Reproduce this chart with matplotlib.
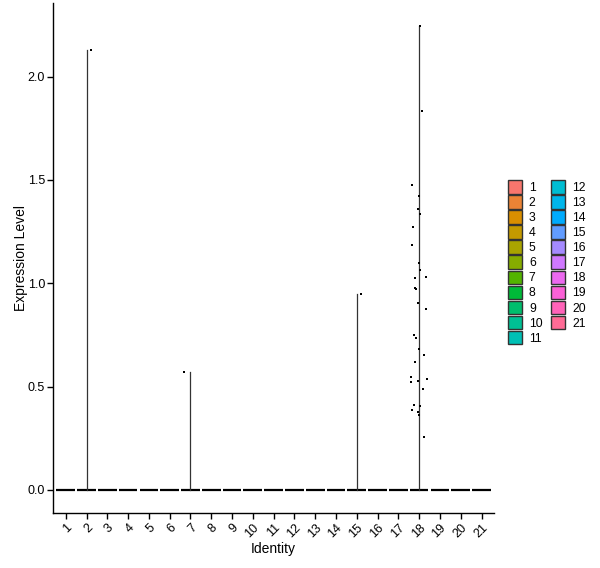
import numpy as np
from matplotlib import pyplot as plt
from matplotlib.patches import Patch

# кластеры (Identity)
clusters = [str(i) for i in range(1, 22)]

# ненулевые значения экспрессии: кластер -> значения и смещения джиттера
c2_values = [2.131]
c2_jitter = [0.21]

c7_values = [0.572]
c7_jitter = [-0.32]

c15_values = [0.948]
c15_jitter = [0.19]

c18_values = [2.247, 1.835, 1.477, 1.424, 1.361, 1.334, 1.274, 1.187,
              1.100, 1.063, 1.032, 1.027, 0.979, 0.974, 0.906, 0.877,
              0.749, 0.734, 0.684, 0.655, 0.618, 0.545, 0.539, 0.526,
              0.521, 0.490, 0.413, 0.408, 0.389, 0.379, 0.364, 0.258]
c18_jitter = [0.03, 0.125, -0.356, 0.0, -0.07, 0.04, -0.31, -0.356,
              0.0, 0.04, 0.317, -0.21, -0.21, -0.16, -0.07, 0.317,
              -0.26, -0.16, 0.0, 0.22, -0.21, -0.40, 0.365, -0.07,
              -0.40, 0.17, -0.26, 0.03, -0.356, -0.07, -0.02, 0.22]

nonzero = {
    2: (c2_values, c2_jitter),
    7: (c7_values, c7_jitter),
    15: (c15_values, c15_jitter),
    18: (c18_values, c18_jitter),
}


def hue_pal(n, c=100, l=65):
    """ палитра ggplot: hcl -> sRGB """
    hues = np.linspace(15, 375, n + 1)[:-1]
    xn, yn, zn = 95.047, 100.0, 108.883
    un = 4 * xn / (xn + 15 * yn + 3 * zn)
    vn = 9 * yn / (xn + 15 * yn + 3 * zn)
    m = np.array([[3.240479, -1.537150, -0.498535],
                  [-0.969256, 1.875992, 0.041556],
                  [0.055648, -0.204043, 1.057311]])
    colors = []
    for h in hues:
        u = c * np.cos(np.radians(h))
        v = c * np.sin(np.radians(h))
        y = yn * ((l + 16) / 116) ** 3
        up = u / (13 * l) + un
        vp = v / (13 * l) + vn
        x = 9 * y * up / (4 * vp)
        z = -x / 3 - 5 * y + 3 * y / vp
        rgb = m @ (np.array([x, y, z]) / 100)
        rgb = np.where(rgb > 0.0031308, 1.055 * np.abs(rgb) ** (1 / 2.4) - 0.055, 12.92 * rgb)
        colors.append(tuple(np.clip(rgb, 0, 1)))
    return colors


def main():
    plt.rcParams['font.family'] = ['Liberation Sans', 'DejaVu Sans']
    colors = hue_pal(len(clusters))

    fig = plt.figure(figsize=(6, 5.68), dpi=100)
    ax = fig.add_axes([0.0888, 0.0963, 0.7345, 0.8979])

    positions = np.arange(1, len(clusters) + 1)
    for pos in positions:
        # нижняя часть скрипки (почти все значения = 0)
        ax.plot([pos - 0.45, pos + 0.45], [0, 0], color='black', lw=1.6,
                solid_capstyle='butt', zorder=2)
        if pos in nonzero:
            vals, jit = nonzero[pos]
            ax.plot([pos, pos], [0, max(vals)], color='#333333', lw=0.9, zorder=2)
            ax.scatter(pos + np.array(jit), vals, s=3, marker='s',
                       color='black', linewidths=0, zorder=3)

    ax.set_xlim(0.4, 21.6)
    ax.set_ylim(-0.113, 2.355)
    ax.set_xticks(positions)
    ax.set_xticklabels(clusters, rotation=45, ha='right', va='top',
                       rotation_mode='anchor')
    ax.set_yticks([0.0, 0.5, 1.0, 1.5, 2.0])
    ax.set_yticklabels(['0.0', '0.5', '1.0', '1.5', '2.0'])
    ax.tick_params(labelsize=9, length=4, width=1, colors='black', pad=2)

    for side in ['top', 'right']:
        ax.spines[side].set_visible(False)
    for side in ['left', 'bottom']:
        ax.spines[side].set_linewidth(1.0)

    ax.set_xlabel('Identity', fontsize=10, labelpad=1.5)
    ax.set_ylabel('Expression Level', fontsize=10, labelpad=-0.5)

    handles = [Patch(facecolor=col, edgecolor='#333333', lw=1.0) for col in colors]
    fig.legend(handles, clusters, loc='upper left',
               bbox_to_anchor=(508 / 600, 1 - 180 / 568), ncol=2,
               frameon=False, fontsize=8.8, handlelength=1.14, handleheight=1.33,
               handletextpad=0.57, labelspacing=0.1, columnspacing=0.72,
               borderpad=0, borderaxespad=0)

    plt.savefig('out.png', dpi=100)


if __name__ == "__main__":
    main()
